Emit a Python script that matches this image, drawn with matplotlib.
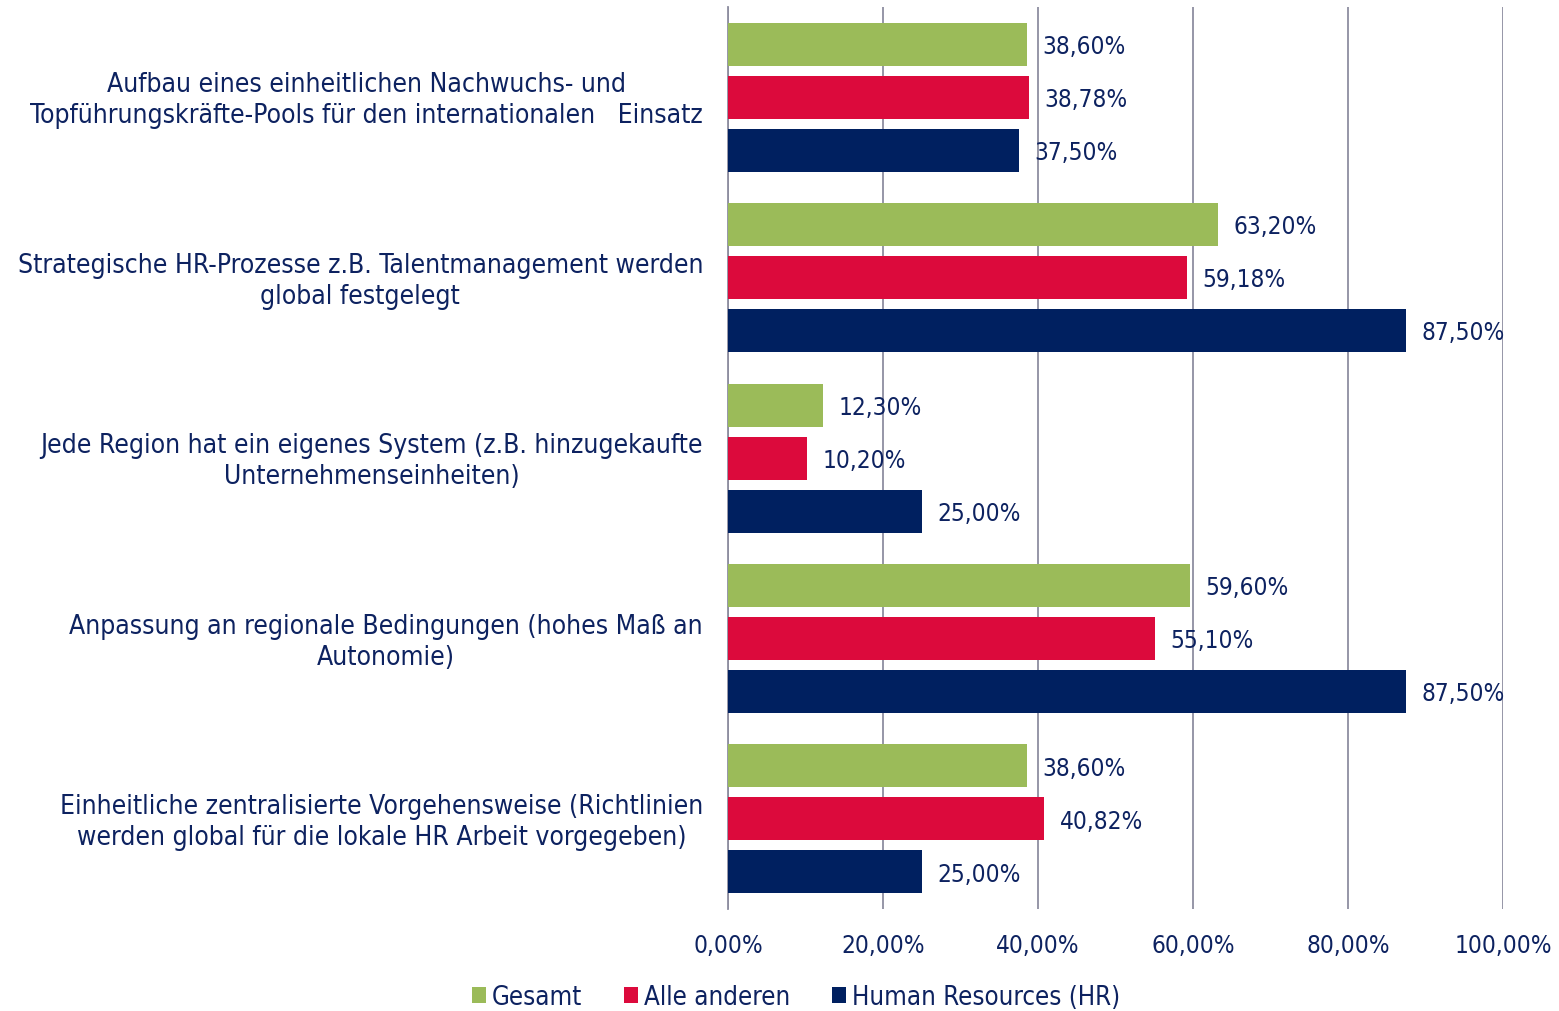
import matplotlib
matplotlib.use("Agg")
import matplotlib.pyplot as plt
import numpy as np

categories = [
    "Aufbau eines einheitlichen Nachwuchs- und\nTopführungskräfte-Pools für den internationalen   Einsatz",
    "Strategische HR-Prozesse z.B. Talentmanagement werden\nglobal festgelegt",
    "Jede Region hat ein eigenes System (z.B. hinzugekaufte\nUnternehmenseinheiten)",
    "Anpassung an regionale Bedingungen (hohes Maß an\nAutonomie)",
    "Einheitliche zentralisierte Vorgehensweise (Richtlinien\nwerden global für die lokale HR Arbeit vorgegeben)",
]
series_names = ["Gesamt", "Alle anderen", "Human Resources (HR)"]
gesamt = [38.60, 63.20, 12.30, 59.60, 38.60]
alle_anderen = [38.78, 59.18, 10.20, 55.10, 40.82]
hr = [37.50, 87.50, 25.00, 87.50, 25.00]
x_ticks = [0, 20, 40, 60, 80, 100]

colors = ["#9BBB59", "#DC0A3C", "#002060"]
text_color = "#0D2260"
grid_color = "#8E8EA0"

plt.rcParams['font.family'] = ['DejaVu Sans']

fig = plt.figure(figsize=(15.59, 10.12), dpi=100)
ax = fig.add_axes([728/1559, 1 - 910/1012, (1503-728)/1559, (910-8)/1012])

y = np.arange(len(categories))
off = 53/180.4
h = 43/180.4
for i, (vals, c) in enumerate(zip([gesamt, alle_anderen, hr], colors)):
    pos = y + (i - 1) * off
    ax.barh(pos, vals, height=h, color=c, label=series_names[i], zorder=3)
    for p, v in zip(pos, vals):
        ax.text(v + 2.0, p + 0.01, f"{v:.2f}%".replace(".", ","), va="center", ha="left",
                color=text_color, fontsize=17.5, fontstretch="condensed", zorder=4)

ax.set_xlim(0, 100)
ax.set_ylim(len(categories) - 0.5, -0.5)
ax.set_xticks(x_ticks)
ax.set_xticklabels([f"{t:.2f}%".replace(".", ",") for t in x_ticks], color=text_color,
                   fontsize=17.5, fontstretch="condensed")
ax.set_yticks(y - 0.015)
ax.set_yticklabels(categories, color=text_color, fontsize=19, fontstretch="condensed",
                   multialignment="center", linespacing=1.25)
ax.tick_params(axis="both", length=0)
ax.tick_params(axis="x", pad=17)
ax.tick_params(axis="y", pad=18)
ax.grid(axis="x", color=grid_color, linewidth=1.3, zorder=0)
for s in ["top", "right", "bottom"]:
    ax.spines[s].set_visible(False)
ax.spines["left"].set_color(grid_color)
ax.spines["left"].set_linewidth(1.3)

leg = fig.legend(loc="center", bbox_to_anchor=(796/1559, 1 - 998/1012), ncol=3, frameon=False,
                 handlelength=0.55, handleheight=0.55, handletextpad=0.25,
                 columnspacing=1.6, prop={"size": 18.5, "stretch": "condensed"})
for t in leg.get_texts():
    t.set_color(text_color)

fig.savefig("out.png", dpi=100)
